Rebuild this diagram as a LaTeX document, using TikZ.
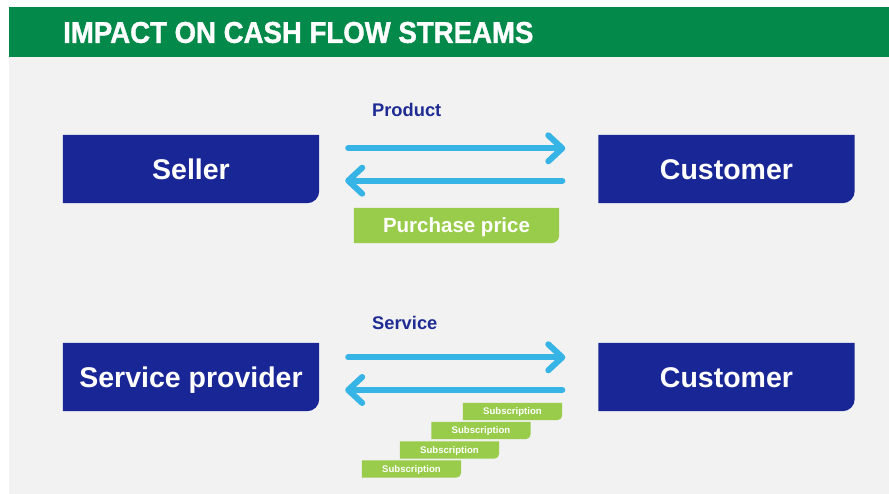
\documentclass[tikz,border=0pt]{standalone}
\usepackage{fontspec}
\setmainfont{Liberation Sans}
\newfontfamily\headfont[FakeStretch=0.92,FakeBold=1.2]{Liberation Sans Bold}
\usetikzlibrary{positioning,arrows.meta,backgrounds}
\definecolor{headgreen}{RGB}{3,138,74}
\definecolor{bggray}{RGB}{242,242,242}
\definecolor{boxblue}{RGB}{25,38,150}
\definecolor{labelblue}{RGB}{30,44,148}
\definecolor{flowblue}{RGB}{54,180,229}
\definecolor{leafgreen}{RGB}{152,204,74}

\begin{document}
\begin{tikzpicture}[x=1pt, y=-1pt,
                    headtext/.style={text=white, font=\headfont\fontsize{30}{32}\selectfont, inner sep=0pt, anchor=west},
                    actorbox/.style={minimum width=256pt, minimum height=68pt, inner sep=0pt, text=white, font=\bfseries\fontsize{28.5}{30}\selectfont, text height=20.4pt, text depth=0pt},
                    pricebox/.style={minimum width=205pt, minimum height=35pt, inner sep=0pt, text=white, font=\bfseries\fontsize{20.5}{22}\selectfont, text height=14.7pt, text depth=0pt},
                    subbox/.style={minimum width=99pt, minimum height=17pt, inner sep=0pt, text=white, font=\bfseries\fontsize{9.6}{11}\selectfont, text height=6.9pt, text depth=0pt},
                    flowlabel/.style={inner sep=0pt, text=labelblue, font=\bfseries\fontsize{18.3}{20}\selectfont, text height=13.2pt, text depth=0pt},
                    flowarrow/.style={draw=flowblue, line width=6pt, line cap=round, -{Straight Barb[length=14pt, width=26pt, round]}}]
    \useasboundingbox (0,0) rectangle (889,494);
    % nodes
    \node[headtext]  (title)    at (63,32.5)     {IMPACT ON CASH FLOW STREAMS};
    \node[actorbox]  (seller)   at (191,169)     {Seller};
    \node[actorbox]  (buyer)    at (726.5,169)   {Customer};
    \node[actorbox]  (provider) at (191,377)     {Service provider};
    \node[actorbox]  (client)   at (726.5,377)   {Customer};
    \node[flowlabel] (product)  at (406.7,109.7) {Product};
    \node[flowlabel] (service)  at (404.8,323.3) {Service};
    \node[pricebox]  (price)    at (456.5,225.5) {Purchase price};
    \foreach \x/\y [count=\i] in {512.5/411.5, 481/430.5, 449.5/450, 411.5/469}
        \node[subbox] (sub\i) at (\x,\y) {Subscription};
    % lines
    \draw[flowarrow, shorten <=29pt, shorten >=33pt] ([yshift=20.7pt]seller.east) -- ([yshift=20.7pt]seller.east -| buyer.west);
    \draw[flowarrow, shorten <=36pt, shorten >=26pt] ([yshift=-11.7pt]seller.east -| buyer.west) -- ([yshift=-11.7pt]seller.east);
    \draw[flowarrow, shorten <=29pt, shorten >=33pt] ([yshift=19.7pt]provider.east) -- ([yshift=19.7pt]provider.east -| client.west);
    \draw[flowarrow, shorten <=36pt, shorten >=26pt] ([yshift=-13pt]provider.east -| client.west) -- ([yshift=-13pt]provider.east);
    % boxes
    \begin{scope}[on background layer]
        \fill[bggray] (9,57) rectangle (889,494);
        \fill[headgreen] (9,7) rectangle (889,57);
        \foreach \n/\r/\c in {seller/12/boxblue, buyer/12/boxblue, provider/12/boxblue, client/12/boxblue,
                              price/8/leafgreen, sub1/5/leafgreen, sub2/5/leafgreen, sub3/5/leafgreen, sub4/5/leafgreen}
            \fill[\c] (\n.north west) -- (\n.north east) -- ([yshift=\r pt]\n.south east)
                .. controls ([yshift={0.45*\r pt}]\n.south east) and ([xshift={-0.45*\r pt}]\n.south east) .. ([xshift=-\r pt]\n.south east)
                -- (\n.south west) -- cycle;
    \end{scope}
\end{tikzpicture}
\end{document}
